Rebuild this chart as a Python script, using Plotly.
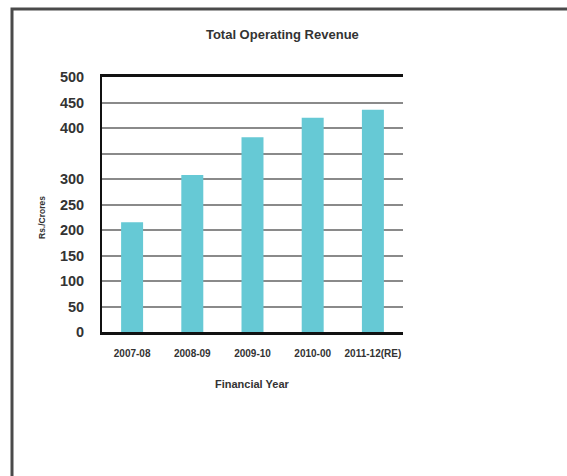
import plotly.graph_objects as go

# Total operating revenue by financial year (Rs. crores)
years = ["2007-08", "2008-09", "2009-10", "2010-00", "2011-12(RE)"]
revenue = [215, 308, 382, 420, 436]

tick_values = [0, 50, 100, 150, 200, 250, 300, 350, 400, 450, 500]
tick_labels = ["0", "50", "100", "150", "200", "250", "300", "", "400", "450", "500"]

FONT = "Liberation Sans, Arial, sans-serif"
TEXT = "#333333"

fig = go.Figure(
    go.Bar(
        x=years,
        y=revenue,
        marker=dict(color="#66C9D5", line=dict(width=0)),
        hoverinfo="x+y",
    )
)

fig.update_layout(
    width=567,
    height=476,
    margin=dict(l=102, r=164, t=77, b=144),
    paper_bgcolor="white",
    plot_bgcolor="white",
    bargap=0.635,
    showlegend=False,
    font=dict(family=FONT, color=TEXT),
    title=dict(
        text="<b>Total Operating Revenue</b>",
        x=0.498,
        xanchor="center",
        y=1 - 34 / 476,
        yanchor="middle",
        font=dict(size=13, family=FONT, color=TEXT),
    ),
)

fig.update_xaxes(
    type="category",
    showline=True,
    linecolor="#111111",
    linewidth=2.5,
    mirror=True,
    layer="below traces",
    showgrid=False,
    ticks="",
    tickangle=0,
    tickfont=dict(size=10, family=FONT, color=TEXT, weight="bold"),
    ticklabelstandoff=10,
)

fig.update_yaxes(
    range=[0, 500],
    tickmode="array",
    tickvals=tick_values,
    ticktext=tick_labels,
    showline=True,
    linecolor="#111111",
    linewidth=2,
    zeroline=False,
    showgrid=True,
    gridcolor="#8a8a8a",
    gridwidth=1.5,
    layer="below traces",
    ticks="",
    ticklabelstandoff=13,
    tickfont=dict(size=14.5, family=FONT, color=TEXT, weight="bold"),
)

# axis titles
fig.add_annotation(
    text="<b>Financial Year</b>",
    xref="paper", yref="paper",
    x=(252 - 102) / 301, y=(332 - 384) / 255,
    xanchor="center", yanchor="middle",
    showarrow=False,
    font=dict(size=11, family=FONT, color=TEXT),
)
fig.add_annotation(
    text="<b>Rs./Crores</b>",
    xref="paper", yref="paper",
    x=(42 - 102) / 301, y=(332 - 218) / 255,
    xanchor="center", yanchor="middle",
    textangle=-90,
    showarrow=False,
    font=dict(size=8.5, family=FONT, color=TEXT),
)

# outer frame (top and left edges)
fig.add_shape(
    type="path",
    xref="paper", yref="paper",
    path="M %f,%f L %f,%f L %f,%f" % (
        (12 - 102) / 301, (332 - 500) / 255,
        (12 - 102) / 301, (332 - 9) / 255,
        (600 - 102) / 301, (332 - 9) / 255,
    ),
    line=dict(color="#4a4a4a", width=3),
    layer="above",
)

fig.write_html("out.html")
